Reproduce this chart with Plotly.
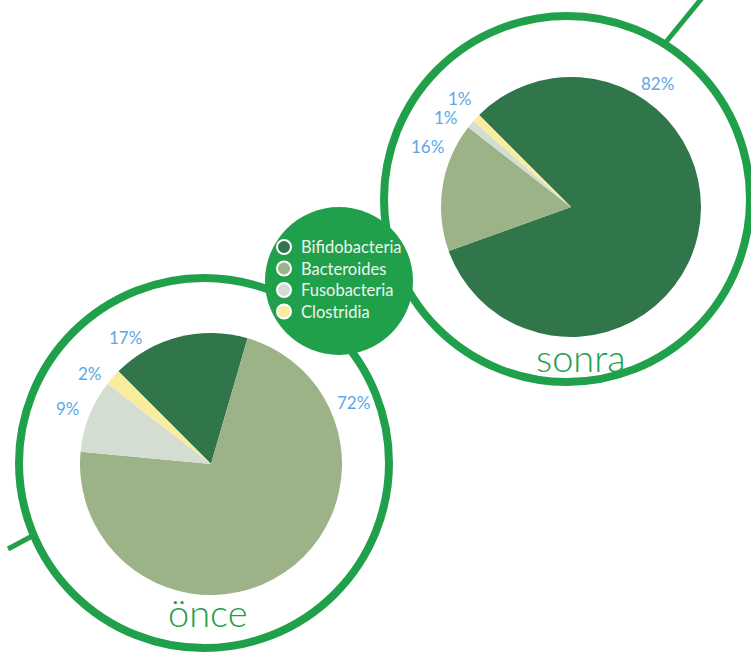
import plotly.graph_objects as go

W, H = 751, 656

# Gut flora composition before ("önce") and after ("sonra")
categories = ["Bifidobacteria", "Bacteroides", "Fusobacteria", "Clostridia"]
once_values = [17, 72, 9, 2]
sonra_values = [82, 16, 1, 1]
panel_titles = ["önce", "sonra"]

slice_colors = ["#31764A", "#9CB388", "#D4DDD1", "#F8EC9F"]
ring_green = "#20A04A"
label_blue = "#5BA8E6"


def px_domain(cx, cy, r):
    """Pie domain (paper fractions) from a pixel centre and radius."""
    return dict(x=[(cx - r) / W, (cx + r) / W],
                y=[1 - (cy + r) / H, 1 - (cy - r) / H])


# pixel geometry for the two panels: pie centre/radius, ring centre/radius
panels = [
    dict(values=once_values, title=panel_titles[0],
         pie=(211, 464, 131), ring=(204, 463, 185), title_pos=(207, 612),
         label_pos=[(125, 337), (353, 402), (68, 408), (90, 373)]),
    dict(values=sonra_values, title=panel_titles[1],
         pie=(571, 207, 130), ring=(567, 199, 183), title_pos=(581, 357),
         label_pos=[(657, 83), (427, 146), (446, 117), (460, 98)]),
]

fig = go.Figure()
shapes = []
annotations = []

for p in panels:
    cx, cy, r = p["pie"]
    fig.add_trace(go.Pie(
        labels=categories, values=p["values"], sort=False,
        direction="clockwise", rotation=-45,
        marker=dict(colors=slice_colors, line=dict(width=0)),
        textinfo="none", hoverinfo="label+percent", showlegend=False,
        domain=px_domain(cx, cy, r),
    ))
    rx, ry, rr = p["ring"]
    shapes.append(dict(type="circle", xref="x", yref="y", layer="below",
                       x0=rx - rr, x1=rx + rr, y0=ry - rr, y1=ry + rr,
                       line=dict(color=ring_green, width=8)))
    for val, (lx, ly) in zip(p["values"], p["label_pos"]):
        annotations.append(dict(x=lx, y=ly, xref="x", yref="y",
                                text=f"{val}%", showarrow=False,
                                font=dict(family="Lato", size=17, color=label_blue)))
    tx, ty = p["title_pos"]
    annotations.append(dict(x=tx, y=ty, xref="x", yref="y", text=p["title"],
                            showarrow=False,
                            font=dict(family="Lato", size=38, weight=300,
                                      color=ring_green)))

# central legend disc
disc_cx, disc_cy, disc_r = 339, 281, 74
shapes.append(dict(type="circle", xref="x", yref="y", layer="below",
                   x0=disc_cx - disc_r, x1=disc_cx + disc_r,
                   y0=disc_cy - disc_r, y1=disc_cy + disc_r,
                   fillcolor=ring_green, line=dict(width=0)))

# connector stubs leaving the rings
shapes.append(dict(type="line", xref="x", yref="y", layer="below",
                   x0=666, y0=42, x1=702, y1=-2,
                   line=dict(color=ring_green, width=5)))
shapes.append(dict(type="line", xref="x", yref="y", layer="below",
                   x0=8, y0=549, x1=36, y1=534,
                   line=dict(color=ring_green, width=5)))

# legend entries drawn inside the disc
legend_y = [247, 268.5, 290, 311.5]
fig.add_trace(go.Scatter(
    x=[284] * len(categories), y=legend_y, mode="markers",
    marker=dict(size=14, color=slice_colors, line=dict(color="white", width=2)),
    hoverinfo="skip", showlegend=False, cliponaxis=False,
))
for name, ly in zip(categories, legend_y):
    annotations.append(dict(x=299, y=ly, xref="x", yref="y", text=name,
                            xanchor="left", showarrow=False,
                            font=dict(family="Lato", size=16.5, color="#EEF5EE")))

fig.update_layout(
    width=W, height=H,
    margin=dict(l=0, r=0, t=0, b=0),
    paper_bgcolor="white", plot_bgcolor="white",
    xaxis=dict(range=[0, W], visible=False, fixedrange=True),
    yaxis=dict(range=[H, 0], visible=False, fixedrange=True),
    shapes=shapes, annotations=annotations,
)

fig.write_html("out.html")
